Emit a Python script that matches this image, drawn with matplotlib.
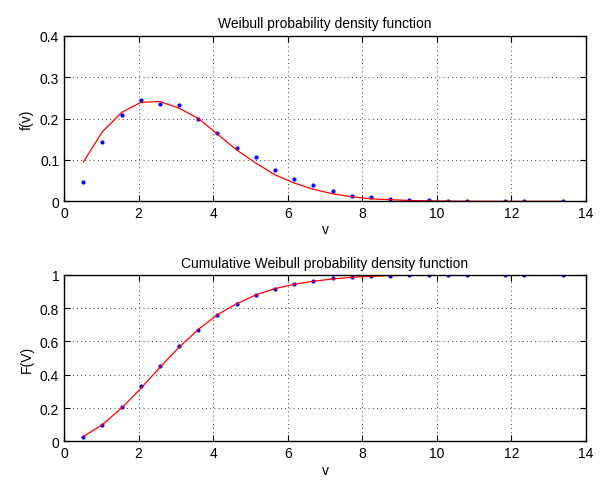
import matplotlib.pyplot as plt
from matplotlib.ticker import FormatStrFormatter

plt.rcParams['font.family'] = ['Liberation Sans', 'DejaVu Sans']
plt.rcParams['font.size'] = 10

# bin centres (wind speed v)
v = [0.52, 1.03, 1.55, 2.06, 2.57, 3.09, 3.60, 4.11, 4.63, 5.15, 5.66, 6.18,
     6.69, 7.21, 7.72, 8.23, 8.74, 9.26, 9.78, 10.29, 10.81, 11.83, 12.34, 13.38]

# measured pdf (blue dots)
f_meas = [0.047, 0.144, 0.208, 0.244, 0.234, 0.233, 0.199, 0.165, 0.128, 0.106, 0.076, 0.055,
          0.039, 0.024, 0.014, 0.010, 0.005, 0.003, 0.002, 0.001, 0.0005, 0.0, 0.0, 0.0]
# fitted pdf (red line)
f_fit = [0.095, 0.168, 0.215, 0.239, 0.241, 0.225, 0.200, 0.163, 0.124, 0.092, 0.064, 0.044,
         0.029, 0.018, 0.011, 0.006, 0.004, 0.002, 0.001, 0.0005, 0.0002, 0.0, 0.0, 0.0]

# measured cdf (blue dots)
F_meas = [0.024, 0.098, 0.205, 0.331, 0.451, 0.571, 0.671, 0.758, 0.824, 0.880, 0.918, 0.946,
          0.966, 0.980, 0.988, 0.993, 0.996, 0.998, 0.999, 0.9995, 1.0, 1.0, 1.0, 1.0]
# fitted cdf (red line)
F_fit = [0.029, 0.100, 0.200, 0.318, 0.444, 0.566, 0.672, 0.760, 0.827, 0.880, 0.918, 0.944,
         0.962, 0.976, 0.986, 0.992, 0.996, 0.998, 0.999, 0.9995, 1.0, 1.0, 1.0, 1.0]

fig = plt.figure(figsize=(6.06, 4.81), dpi=100)
ax1 = fig.add_axes([0.1056, 0.5794, 0.8614, 0.3443])
ax2 = fig.add_axes([0.1056, 0.0805, 0.8614, 0.3458])


def style(ax, yticks):
    ax.set_xlim(0, 14)
    ax.set_xticks(range(0, 15, 2))
    ax.set_ylim(yticks[0], yticks[-1])
    ax.set_yticks(yticks)
    ax.yaxis.set_major_formatter(FormatStrFormatter('%g'))
    ax.grid(True, color='k', linestyle=(0, (1, 4)), linewidth=0.6)
    ax.tick_params(direction='in', top=True, right=True, length=4, width=0.8, labelsize=10)
    for s in ax.spines.values():
        s.set_linewidth(1.0)


ax1.plot(v, f_meas, '.', color='b', markersize=4)
ax1.plot(v, f_fit, '-', color='r', linewidth=0.9)
style(ax1, [0, 0.1, 0.2, 0.3, 0.4])
ax1.set_title('Weibull probability density function', fontsize=10)
ax1.set_xlabel('v', labelpad=1)
ax1.set_ylabel('f(v)')

ax2.plot(v, F_meas, '.', color='b', markersize=4)
ax2.plot(v, F_fit, '-', color='r', linewidth=0.9)
style(ax2, [0, 0.2, 0.4, 0.6, 0.8, 1.0])
ax2.set_title('Cumulative Weibull probability density function', fontsize=10)
ax2.set_xlabel('v', labelpad=2)
ax2.set_ylabel('F(V)')

fig.savefig('out.png', dpi=100)
